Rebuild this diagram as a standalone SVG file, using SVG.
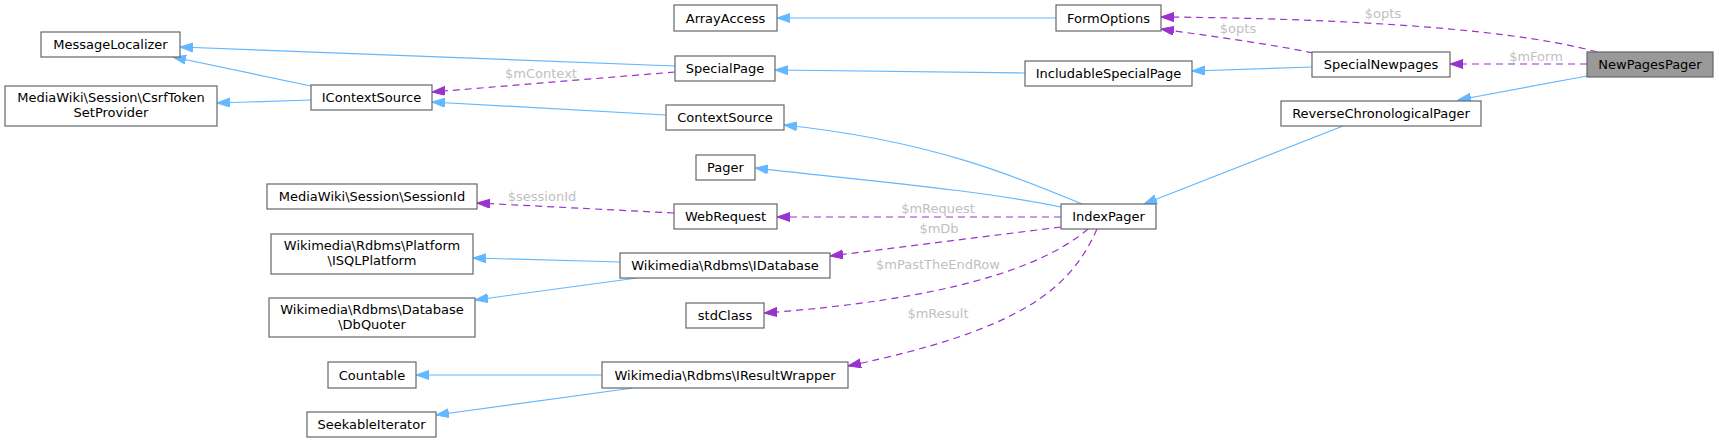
<svg xmlns="http://www.w3.org/2000/svg" width="1719" height="443" viewBox="0 0 1719 443">
<style>
.n rect{fill:#fff;stroke:#666;stroke-width:1.2}
.n text{font-family:"DejaVu Sans",sans-serif;font-size:13px;fill:#000;text-anchor:middle}
#NewPagesPager rect{fill:#999}
.inh{fill:none;stroke:#63b8ff;stroke-width:1.2}
.use{fill:none;stroke:#9a32cd;stroke-width:1.2;stroke-dasharray:7,5}
.lbl{font-family:"DejaVu Sans",sans-serif;font-size:13px;fill:#bfbfbf;text-anchor:middle}
</style>
<defs>
<marker id="ab" markerUnits="userSpaceOnUse" markerWidth="14" markerHeight="10" refX="13" refY="4.5" orient="auto"><path d="M0,0 L13,4.5 L0,9 z" fill="#63b8ff" stroke="#63b8ff" stroke-width="1"/></marker>
<marker id="ap" markerUnits="userSpaceOnUse" markerWidth="14" markerHeight="10" refX="13" refY="4.5" orient="auto"><path d="M0,0 L13,4.5 L0,9 z" fill="#9a32cd" stroke="#9a32cd" stroke-width="1"/></marker>
</defs>
<g id="edges">
<path class="inh" marker-end="url(#ab)" d="M1056,18 L777,18"/>
<path class="use" marker-end="url(#ap)" d="M1597,52 C1500,25 1300,18 1161,17"/>
<text class="lbl" x="1383" y="18">$opts</text>
<path class="use" marker-end="url(#ap)" d="M1313,53 C1270,44 1210,36 1161,29"/>
<text class="lbl" x="1238" y="33">$opts</text>
<path class="use" marker-end="url(#ap)" d="M1587,64 L1450,64"/>
<text class="lbl" x="1536" y="61">$mForm</text>
<path class="inh" marker-end="url(#ab)" d="M1587,76 L1458,100"/>
<path class="inh" marker-end="url(#ab)" d="M1312,67 L1192,71"/>
<path class="inh" marker-end="url(#ab)" d="M1025,73 L775,70"/>
<path class="inh" marker-end="url(#ab)" d="M675,66 L180,47"/>
<path class="use" marker-end="url(#ap)" d="M675,72 L432,92"/>
<text class="lbl" x="541" y="78">$mContext</text>
<path class="inh" marker-end="url(#ab)" d="M311,86 L173,57"/>
<path class="inh" marker-end="url(#ab)" d="M311,100 L217,103"/>
<path class="inh" marker-end="url(#ab)" d="M666,115 L432,102"/>
<path class="inh" marker-end="url(#ab)" d="M1082,204 C1020,178 930,140 784,125"/>
<path class="inh" marker-end="url(#ab)" d="M1061,207 C980,190 860,180 755,168"/>
<path class="use" marker-end="url(#ap)" d="M1061,217 L777,217"/>
<text class="lbl" x="938" y="213">$mRequest</text>
<path class="use" marker-end="url(#ap)" d="M674,213 L477,203"/>
<text class="lbl" x="542" y="201">$sessionId</text>
<path class="use" marker-end="url(#ap)" d="M1061,227 L830,256"/>
<text class="lbl" x="939" y="233">$mDb</text>
<path class="inh" marker-end="url(#ab)" d="M620,262 L473,258"/>
<path class="inh" marker-end="url(#ab)" d="M637,278 L475,300"/>
<path class="use" marker-end="url(#ap)" d="M1088,229 C1040,270 940,300 764,313"/>
<text class="lbl" x="938" y="269">$mPastTheEndRow</text>
<path class="use" marker-end="url(#ap)" d="M1097,229 C1070,290 1020,330 848,366"/>
<text class="lbl" x="938" y="318">$mResult</text>
<path class="inh" marker-end="url(#ab)" d="M602,375 L416,375"/>
<path class="inh" marker-end="url(#ab)" d="M633,388 L436,415"/>
<path class="inh" marker-end="url(#ab)" d="M1343,126 L1144,204"/>
</g>
<g id="MessageLocalizer" class="n"><rect x="41" y="32" width="139" height="25"/><text x="110.5" y="49">MessageLocalizer</text></g>
<g id="CsrfTokenSetProvider" class="n"><rect x="5" y="86" width="212" height="40"/><text x="111" y="102">MediaWiki\Session\CsrfToken</text><text x="111" y="117">SetProvider</text></g>
<g id="IContextSource" class="n"><rect x="311" y="85" width="121" height="25"/><text x="371.5" y="102">IContextSource</text></g>
<g id="ArrayAccess" class="n"><rect x="674" y="5" width="103" height="26"/><text x="725.5" y="22.5">ArrayAccess</text></g>
<g id="SpecialPage" class="n"><rect x="675" y="56" width="100" height="25"/><text x="725" y="73">SpecialPage</text></g>
<g id="ContextSource" class="n"><rect x="666" y="105" width="118" height="25"/><text x="725" y="122">ContextSource</text></g>
<g id="FormOptions" class="n"><rect x="1056" y="5" width="105" height="26"/><text x="1108.5" y="22.5">FormOptions</text></g>
<g id="IncludableSpecialPage" class="n"><rect x="1025" y="61" width="167" height="25"/><text x="1108.5" y="78">IncludableSpecialPage</text></g>
<g id="SpecialNewpages" class="n"><rect x="1312" y="52" width="138" height="25"/><text x="1381" y="69">SpecialNewpages</text></g>
<g id="NewPagesPager" class="n"><rect x="1587" y="52" width="126" height="25"/><text x="1650" y="69">NewPagesPager</text></g>
<g id="ReverseChronologicalPager" class="n"><rect x="1281" y="101" width="200" height="25"/><text x="1381" y="118">ReverseChronologicalPager</text></g>
<g id="SessionId" class="n"><rect x="267" y="184" width="210" height="25"/><text x="372" y="201">MediaWiki\Session\SessionId</text></g>
<g id="ISQLPlatform" class="n"><rect x="271" y="234" width="202" height="40"/><text x="372" y="250">Wikimedia\Rdbms\Platform</text><text x="372" y="265">\ISQLPlatform</text></g>
<g id="Pager" class="n"><rect x="696" y="155" width="59" height="25"/><text x="725.5" y="172">Pager</text></g>
<g id="WebRequest" class="n"><rect x="674" y="204" width="103" height="25"/><text x="725.5" y="221">WebRequest</text></g>
<g id="IDatabase" class="n"><rect x="620" y="253" width="210" height="25"/><text x="725" y="270">Wikimedia\Rdbms\IDatabase</text></g>
<g id="IndexPager" class="n"><rect x="1061" y="204" width="95" height="25"/><text x="1108.5" y="221">IndexPager</text></g>
<g id="DbQuoter" class="n"><rect x="269" y="298" width="206" height="39"/><text x="372" y="314">Wikimedia\Rdbms\Database</text><text x="372" y="329">\DbQuoter</text></g>
<g id="Countable" class="n"><rect x="328" y="362" width="88" height="26"/><text x="372" y="379.5">Countable</text></g>
<g id="SeekableIterator" class="n"><rect x="307" y="412" width="129" height="25"/><text x="371.5" y="429">SeekableIterator</text></g>
<g id="stdClass" class="n"><rect x="686" y="303" width="78" height="25"/><text x="725" y="320">stdClass</text></g>
<g id="IResultWrapper" class="n"><rect x="602" y="362" width="246" height="26"/><text x="725" y="379.5">Wikimedia\Rdbms\IResultWrapper</text></g>
</svg>
